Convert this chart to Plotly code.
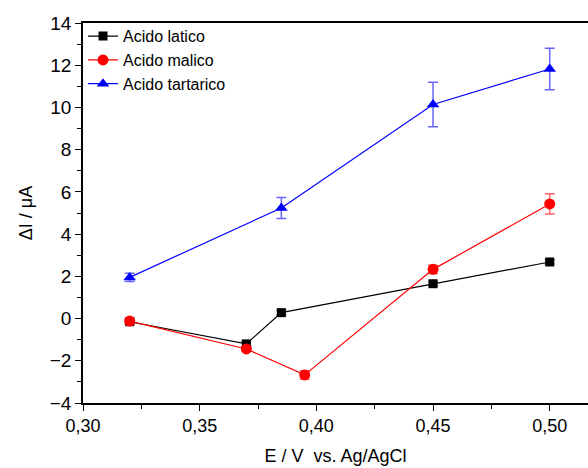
import plotly.graph_objects as go

# Potential (V vs. Ag/AgCl) and current change (µA) for each acid
x_latico = [0.32, 0.37, 0.385, 0.45, 0.50]
y_latico = [-0.15, -1.2, 0.28, 1.65, 2.68]
err_latico = [0.1, 0.1, 0.1, 0.1, 0.1]

x_malico = [0.32, 0.37, 0.395, 0.45, 0.50]
y_malico = [-0.12, -1.44, -2.67, 2.33, 5.43]
err_malico = [0.15, 0.1, 0.2, 0.2, 0.48]

x_tartarico = [0.32, 0.385, 0.45, 0.50]
y_tartarico = [1.95, 5.24, 10.14, 11.82]
err_tartarico = [0.2, 0.5, 1.05, 0.98]

FONT = "Liberation Sans, Arial, sans-serif"

fig = go.Figure()

series = [
    ("Acido latico", x_latico, y_latico, err_latico, "#000000", "rgba(0,0,0,0.6)", "square", 9),
    ("Acido malico", x_malico, y_malico, err_malico, "#ff0000", "rgba(255,0,0,0.6)", "circle", 11),
    ("Acido tartarico", x_tartarico, y_tartarico, err_tartarico, "#0000ff", "rgba(0,0,255,0.6)", "triangle-up", 11),
]

for name, xs, ys, es, col, ecol, sym, size in series:
    fig.add_trace(go.Scatter(
        x=xs, y=ys, name=name, mode="lines+markers",
        line=dict(color=col, width=1.2),
        marker=dict(symbol=sym, size=size, color=col, line=dict(width=0)),
        error_y=dict(type="data", array=es, visible=True, color=ecol, thickness=1.5, width=5),
    ))

fig.update_layout(
    width=588, height=468,
    margin=dict(l=83, r=0, t=23, b=65),
    paper_bgcolor="white", plot_bgcolor="white",
    font=dict(family=FONT, size=18, color="black"),
    showlegend=True,
    legend=dict(
        x=0.0, y=1.01, xanchor="left", yanchor="top",
        bgcolor="rgba(0,0,0,0)", borderwidth=0,
        font=dict(family=FONT, size=16, color="black"),
        tracegroupgap=0, itemwidth=30,
    ),
    xaxis=dict(
        range=[0.30, 0.5164], tickmode="array",
        tickvals=[0.30, 0.35, 0.40, 0.45, 0.50],
        ticktext=["0,30", "0,35", "0,40", "0,45", "0,50"],
        showgrid=False, zeroline=False,
        showline=True, linecolor="black", linewidth=1.5, mirror=True,
        ticks="outside", ticklen=6, tickwidth=1.2, tickcolor="black",
        minor=dict(dtick=0.025, tick0=0.30, ticks="outside", ticklen=4, tickwidth=1, tickcolor="black"),
        tickfont=dict(family=FONT, size=18, color="black"),
        title=dict(text="E / V  vs. Ag/AgCl", font=dict(family=FONT, size=18, color="black"), standoff=14),
    ),
    yaxis=dict(
        range=[-4, 14], tickmode="linear", tick0=-4, dtick=2,
        showgrid=False, zeroline=False,
        showline=True, linecolor="black", linewidth=1.5,
        ticks="outside", ticklen=6, tickwidth=1.2, tickcolor="black",
        minor=dict(dtick=1, ticks="outside", ticklen=4, tickwidth=1, tickcolor="black"),
        tickfont=dict(family=FONT, size=19, color="black"),
        title=dict(text="ΔI / μA", font=dict(family=FONT, size=18, color="black"), standoff=12),
    ),
)

fig.write_html("out.html")
